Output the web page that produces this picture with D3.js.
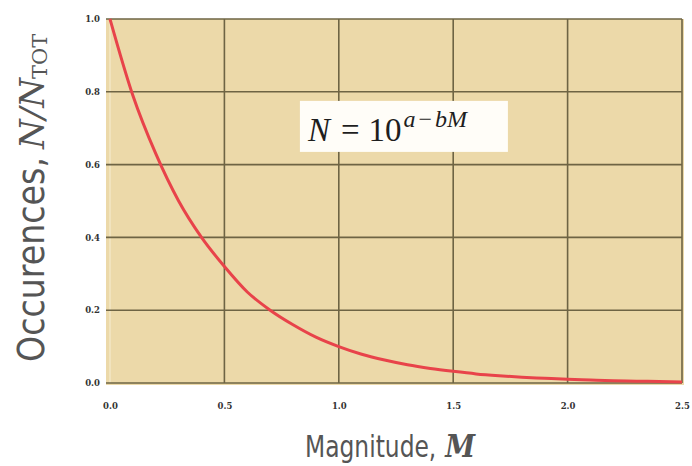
<!DOCTYPE html>
<html>
<head>
<meta charset="utf-8">
<script src="https://cdn.jsdelivr.net/npm/d3@7"></script>
<style>
  body { margin: 0; background: #fff; }
  svg { display: block; }
</style>
</head>
<body>
<svg id="chart" width="692" height="466"></svg>
<script>
// values
var magnitude = [0.0, 0.1, 0.2, 0.3, 0.4, 0.5, 0.6, 0.7, 0.8, 0.9, 1.0,
                 1.1, 1.2, 1.3, 1.4, 1.5, 1.6, 1.7, 1.8, 1.9, 2.0,
                 2.1, 2.2, 2.3, 2.4, 2.5];
var occurences = [1.0, 0.79, 0.63, 0.50, 0.40, 0.32, 0.25, 0.20, 0.16, 0.126, 0.10,
                  0.079, 0.063, 0.050, 0.040, 0.032, 0.025, 0.020, 0.016, 0.013, 0.010,
                  0.008, 0.006, 0.005, 0.004, 0.003];
var xTicks = [0.0, 0.5, 1.0, 1.5, 2.0, 2.5];
var yTicks = [0.0, 0.2, 0.4, 0.6, 0.8, 1.0];

var margin = {top: 19, right: 10, bottom: 83, left: 110},
    width = 692 - margin.left - margin.right,
    height = 466 - margin.top - margin.bottom;

var svg = d3.select("#chart"),
    g = svg.append("g")
        .attr("transform", "translate(" + margin.left + "," + margin.top + ")");

var xScale = d3.scaleLinear().domain([0, 2.5]).range([0, width]),
    yScale = d3.scaleLinear().domain([0, 1]).range([height, 0]);

// plot background
g.append("rect")
    .attr("x", -4)
    .attr("y", 0)
    .attr("width", width + 6)
    .attr("height", height + 2)
    .attr("fill", "#ecd9a9");

// grid
g.append("g")
    .attr("class", "grid x")
    .selectAll("line")
    .data(xTicks)
    .enter().append("line")
    .attr("x1", function(d) { return xScale(d); })
    .attr("x2", function(d) { return xScale(d); })
    .attr("y1", 0)
    .attr("y2", height)
    .attr("stroke", function(d) { return d === 0 ? "#f3e6c4" : "#6e6444"; })
    .attr("stroke-width", 1.6);

g.append("g")
    .attr("class", "grid y")
    .selectAll("line")
    .data(yTicks)
    .enter().append("line")
    .attr("x1", -4)
    .attr("x2", width)
    .attr("y1", function(d) { return yScale(d); })
    .attr("y2", function(d) { return yScale(d); })
    .attr("stroke", "#6e6444")
    .attr("stroke-width", 1.6);

// axes (labels only)
var xAxis = d3.axisBottom(xScale)
        .tickValues(xTicks)
        .tickSize(0)
        .tickPadding(20)
        .tickFormat(d3.format(".1f")),
    yAxis = d3.axisLeft(yScale)
        .tickValues(yTicks)
        .tickSize(0)
        .tickPadding(10)
        .tickFormat(d3.format(".1f"));

g.append("g")
    .attr("transform", "translate(0," + height + ")")
    .call(xAxis)
    .call(function(s) { s.select(".domain").remove(); });

g.append("g")
    .call(yAxis)
    .call(function(s) { s.select(".domain").remove(); });

g.selectAll(".tick text")
    .attr("fill", "#333")
    .style("font-family", "'DejaVu Serif', serif")
    .style("font-weight", "bold")
    .style("font-size", "8.5px");

// curve
var line = d3.line()
    .x(function(d, i) { return xScale(magnitude[i]); })
    .y(function(d) { return yScale(d); })
    .curve(d3.curveMonotoneX);

g.append("path")
    .datum(occurences)
    .attr("d", line)
    .attr("fill", "none")
    .attr("stroke", "#e8434a")
    .attr("stroke-width", 3);

// equation box
var box = g.append("g")
    .attr("transform", "translate(" + xScale(0.83) + "," + yScale(0.775) + ")");
box.append("rect")
    .attr("width", 208)
    .attr("height", 51)
    .attr("fill", "#fffdf8");
var eq = box.append("text")
    .attr("x", 8)
    .attr("y", 40)
    .attr("fill", "#1e1e1e")
    .style("font-family", "'Liberation Serif', serif")
    .style("font-size", "33px");
eq.append("tspan").style("font-style", "italic").text("N");
eq.append("tspan").attr("dx", 11).text("=");
eq.append("tspan").attr("dx", 9).text("10");
var sup = eq.append("tspan")
    .attr("dy", -14)
    .style("font-size", "24px");
sup.append("tspan").attr("dx", 2).style("font-style", "italic").text("a");
sup.append("tspan").attr("dx", 3).text("\u2212");
sup.append("tspan").attr("dx", 3).style("font-style", "italic").text("bM");

// axis titles
var titleFont = "'DejaVu Sans Condensed', 'DejaVu Sans', sans-serif";

var xTitle = svg.append("text")
    .attr("transform", "translate(305,457) scale(1,1.15)")
    .attr("fill", "#555")
    .style("font-family", titleFont)
    .style("font-size", "26px");
xTitle.append("tspan").text("Magnitude,");
xTitle.append("tspan")
    .attr("dx", 9)
    .style("font-family", "'DejaVu Serif', serif")
    .style("font-style", "italic")
    .style("font-weight", "bold")
    .style("font-size", "27px")
    .text("M");

var yTitle = svg.append("g")
    .attr("transform", "translate(44,362) rotate(-90)")
    .attr("fill", "#555");
yTitle.append("text")
    .attr("textLength", 205)
    .attr("lengthAdjust", "spacingAndGlyphs")
    .style("font-family", titleFont)
    .style("font-size", "37px")
    .text("Occurences,");
yTitle.append("text")
    .attr("x", 213)
    .style("font-family", "'DejaVu Serif', serif")
    .style("font-style", "italic")
    .style("font-size", "34px")
    .text("N/N");
yTitle.append("text")
    .attr("x", 283)
    .attr("y", 3)
    .style("font-family", "'DejaVu Serif', serif")
    .style("font-size", "21px")
    .text("TOT");
</script>
</body>
</html>
